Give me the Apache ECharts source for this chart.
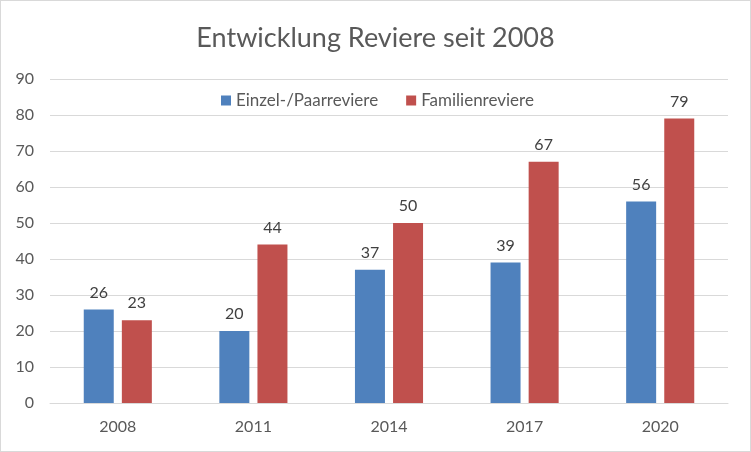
<!DOCTYPE html>
<html>
<head>
<meta charset="utf-8">
<script src="https://cdn.jsdelivr.net/npm/echarts@6/dist/echarts.min.js"></script>
<style>
html,body{margin:0;padding:0;background:#fff;}
#c{width:751px;height:452px;box-sizing:border-box;border:1px solid #D9D9D9;}
</style>
</head>
<body>
<div id="c"></div>
<script>
const categories = ['2008', '2011', '2014', '2017', '2020'];
const einzelPaar = [26, 20, 37, 39, 56];
const familie = [23, 44, 50, 67, 79];
const seriesNames = ['Einzel-/Paarreviere', 'Familienreviere'];

const FONT = 'Lato';
const chart = echarts.init(document.getElementById('c'), null, {renderer: 'canvas'});
chart.setOption({
  animation: false,
  backgroundColor: '#fff',
  title: {
    text: 'Entwicklung Reviere seit 2008',
    left: 'center',
    top: 19,
    textStyle: {fontFamily: FONT, fontSize: 27, fontWeight: 'normal', color: '#595959'}
  },
  legend: {
    left: 215,
    top: 86,
    itemWidth: 10,
    itemHeight: 10,
    itemGap: 28,
    icon: 'rect',
    textStyle: {fontFamily: FONT, fontSize: 17, color: '#595959'},
    data: seriesNames
  },
  grid: {left: 49, right: 22, top: 78, bottom: 48, containLabel: false},
  xAxis: {
    type: 'category',
    data: categories,
    axisTick: {show: false},
    axisLine: {show: true, lineStyle: {color: '#D9D9D9', width: 1}},
    axisLabel: {fontFamily: FONT, fontSize: 16, color: '#595959', margin: 16}
  },
  yAxis: {
    type: 'value',
    min: 0,
    max: 90,
    interval: 10,
    axisLine: {show: false},
    axisTick: {show: false},
    splitLine: {lineStyle: {color: '#D9D9D9', width: 1}},
    axisLabel: {fontFamily: FONT, fontSize: 16, color: '#595959', margin: 16}
  },
  series: [
    {
      name: seriesNames[0],
      type: 'bar',
      data: einzelPaar,
      barWidth: 30,
      barGap: '27%',
      itemStyle: {color: '#4F81BD'},
      label: {show: true, position: 'top', distance: 9, fontFamily: FONT, fontSize: 16, color: '#404040'}
    },
    {
      name: seriesNames[1],
      type: 'bar',
      data: familie,
      barWidth: 30,
      barGap: '27%',
      itemStyle: {color: '#C0504D'},
      label: {show: true, position: 'top', distance: 9, fontFamily: FONT, fontSize: 16, color: '#404040'}
    }
  ]
});
</script>
</body>
</html>
